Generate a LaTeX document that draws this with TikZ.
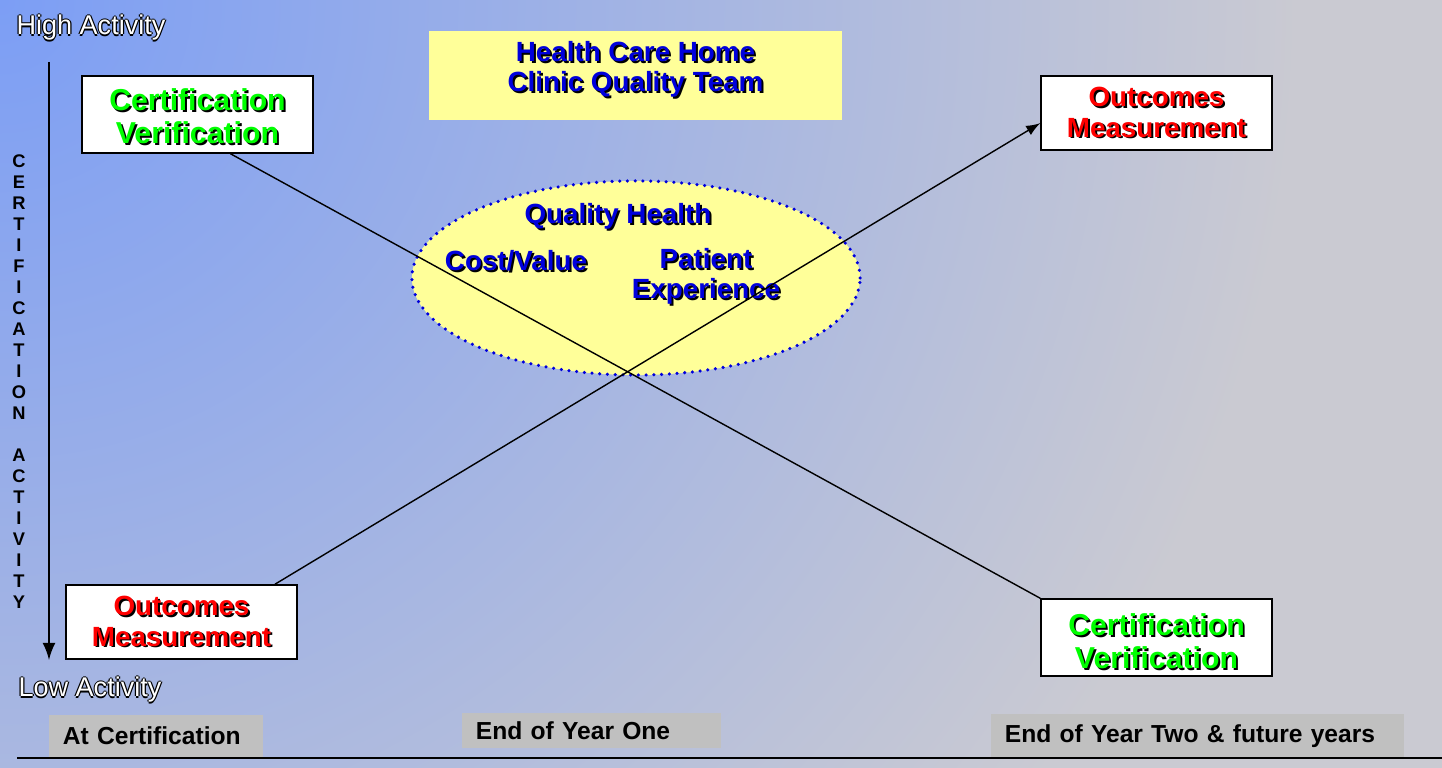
\documentclass[tikz,border=0pt]{standalone}
\usepackage{fontspec}
\setmainfont{Liberation Sans}
\usetikzlibrary{shapes.geometric}

\definecolor{skyblue}{RGB}{124,158,245}
\definecolor{mistgray}{RGB}{202,202,210}
\definecolor{paleyellow}{RGB}{255,255,153}
\definecolor{tagfill}{RGB}{192,192,192}
\definecolor{goalblue}{RGB}{0,0,220}

% coloured text with a dark drop shadow
\newcommand{\shadowed}[2]{\leavevmode\rlap{\kern0.55pt\raisebox{-0.55pt}{\color{black}#2}}{\color{#1}#2}}
% white text with a thin black outline
\newcommand{\outlinetext}[1]{\leavevmode
  \rlap{\kern-0.35pt\color{black}#1}\rlap{\kern0.35pt\color{black}#1}%
  \rlap{\raisebox{0.35pt}{\color{black}#1}}\rlap{\raisebox{-0.35pt}{\color{black}#1}}%
  {\color{white}#1}}

\tikzstyle{box}=[draw, fill=white, minimum width=2.31cm, inner sep=0pt, align=center]
\tikzstyle{cert}=[box, minimum height=0.77cm, font=\bfseries\fontsize{8.6}{9.4}\selectfont]
\tikzstyle{outcome}=[box, minimum height=0.74cm, font=\bfseries\fontsize{7.9}{8.8}\selectfont]
\tikzstyle{goal}=[font=\bfseries\fontsize{7.9}{8.5}\selectfont, align=center, inner sep=0pt]
\tikzstyle{tag}=[fill=tagfill, inner xsep=0.14cm, inner ysep=0pt, align=left, font=\bfseries\fontsize{7}{8}\selectfont]
\tikzstyle{level}=[font=\fontsize{7.7}{9}\selectfont, inner sep=0pt]
\tikzstyle{link}=[thin]
\tikzstyle{axis}=[line width=0.7pt, -latex]

\begin{document}
\begin{tikzpicture}[x=0.01cm, y=-0.01cm]
  \useasboundingbox (0,0) rectangle (1442,768);
  \begin{scope}
    \clip (0,0) rectangle (1442,768);
    \fill[mistgray] (0,0) rectangle (1442,768);
    \shade[inner color=skyblue, outer color=mistgray] (0,0) circle (1300);
  \end{scope}

  % team banner and goal ellipse
  \node[fill=paleyellow, minimum width=4.13cm, minimum height=0.89cm, inner sep=0pt, font=\bfseries\fontsize{7.9}{8.5}\selectfont, align=center] (team) at (635.5,75.5)
    {\shadowed{goalblue}{Health Care Home}\\\shadowed{goalblue}{Clinic Quality Team}\rule[-5.3pt]{0pt}{0pt}};
  \node[ellipse, fill=paleyellow, draw=goalblue, line width=1pt, dash pattern=on 0pt off 2.2pt, line cap=round,
    minimum width=4.48cm, minimum height=1.94cm, inner sep=0pt] (care) at (636,278) {};
  \node[goal] (quality) at (618,217) {\shadowed{goalblue}{Quality Health}};
  \node[goal] (cost) at (516,262) {\shadowed{goalblue}{Cost/Value}};
  \node[goal] (patient) at (706,277) {\shadowed{goalblue}{Patient}\\\shadowed{goalblue}{Experience}};

  % activity boxes
  \node[cert] (cert1) at (197.5,114.5) {\rule{0pt}{8pt}\shadowed{green}{Certification}\\\shadowed{green}{Verification}};
  \node[outcome] (om2) at (1156.5,113) {\shadowed{red}{Outcomes}\\\shadowed{red}{Measurement}};
  \node[outcome] (om1) at (181.5,622) {\shadowed{red}{Outcomes}\\\shadowed{red}{Measurement}};
  \node[cert] (cert2) at (1156.5,637.5) {\rule{0pt}{9pt}\shadowed{green}{Certification}\\\shadowed{green}{Verification}};

  \draw[link] (cert1.-50) to (cert2.north west);
  \draw[link, -latex] (om1.22) to (om2.185);

  % vertical axis
  \node[level] (high) at (91,28) {\outlinetext{High Activity}};
  \node[level] (low) at (90,690) {\outlinetext{Low Activity}};
  \coordinate (top) at (49,62);
  \coordinate (bottom) at (49,660);
  \draw[axis] (top) -- (bottom);
  \node[font=\bfseries\fontsize{5.2}{5.97}\selectfont, align=center, inner sep=0pt] (activity) at (19,382)
    {C\\E\\R\\T\\I\\F\\I\\C\\A\\T\\I\\O\\N\\[5.97pt]A\\C\\T\\I\\V\\I\\T\\Y};

  % time line
  \node[tag, text width=1.86cm, minimum height=0.42cm] (t0) at (156,736) {At Certification};
  \node[tag, text width=2.31cm, minimum height=0.35cm] (t1) at (591.5,730.5) {End of Year One};
  \node[tag, text width=3.85cm, minimum height=0.44cm] (t2) at (1197.5,736) {End of Year Two \& future years};
  \coordinate (rule0) at (17,758);
  \coordinate (rule1) at (1442,758);
  \draw[semithick] (rule0) -- (rule1);
\end{tikzpicture}
\end{document}
